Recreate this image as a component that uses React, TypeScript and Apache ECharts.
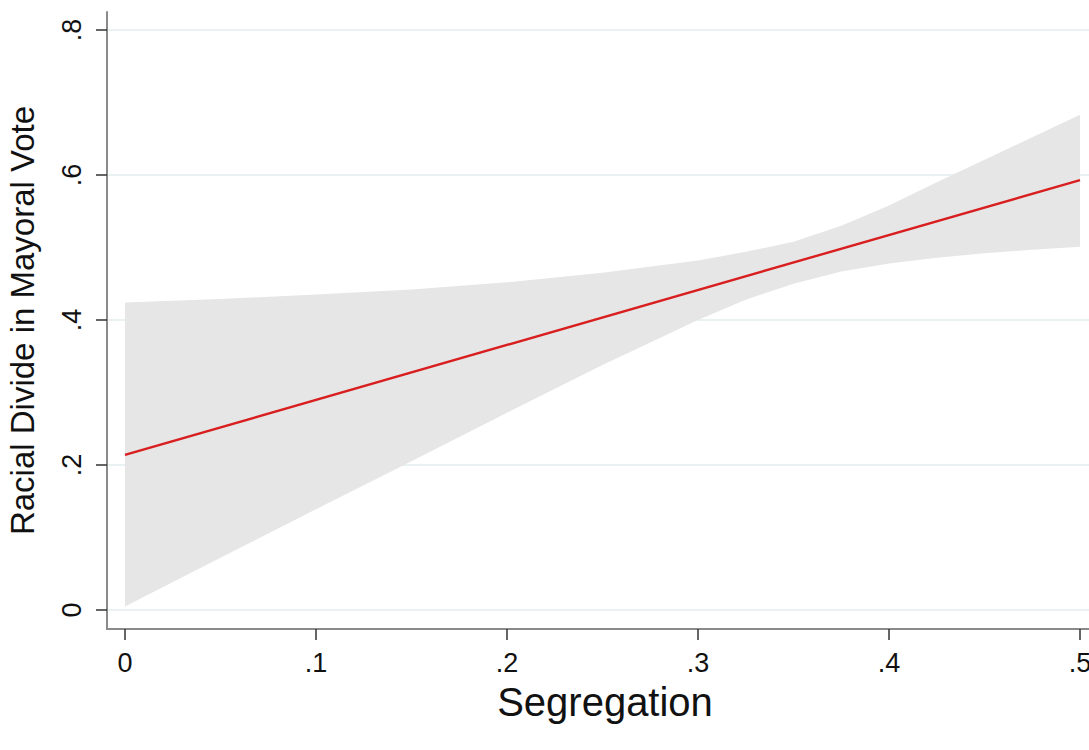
import React, { useEffect, useRef } from "react";
import * as echarts from "echarts";

// Segregation values at which the fitted line and its confidence band were read
const xValues = [0, 0.05, 0.1, 0.15, 0.2, 0.25, 0.3, 0.325, 0.35, 0.375, 0.4, 0.425, 0.45, 0.475, 0.5];
// Upper and lower bound of the confidence band
const upperCI = [0.424, 0.429, 0.435, 0.442, 0.452, 0.465, 0.482, 0.494, 0.508, 0.53, 0.558, 0.59, 0.621, 0.652, 0.683];
const lowerCI = [0.005, 0.072, 0.139, 0.205, 0.272, 0.338, 0.4, 0.428, 0.45, 0.467, 0.478, 0.486, 0.492, 0.497, 0.501];
// Fitted line end points
const fitX = [0, 0.5];
const fitY = [0.214, 0.593];
// Tick values
const xTicks = [0, 0.1, 0.2, 0.3, 0.4, 0.5];
const yTicks = [0, 0.2, 0.4, 0.6, 0.8];

const fmt = (v: number) => {
  if (Math.abs(v) < 1e-9) return "0";
  return String(Math.round(v * 10) / 10).replace(/^0/, "");
};

const FONT = "'Liberation Sans', Arial, Helvetica, sans-serif";

export default function App() {
  const ref = useRef<HTMLDivElement>(null);
  useEffect(() => {
    if (!ref.current) return;
    const chart = echarts.init(ref.current, undefined, { renderer: "svg" });
    const fitData = fitX.map((x, i) => [x, fitY[i]]);
    const bandData = xValues.map((x, i) => [x, lowerCI[i], upperCI[i]]);
    chart.setOption({
      animation: false,
      backgroundColor: "#ffffff",
      textStyle: { fontFamily: FONT },
      grid: {
        left: 107,
        top: 12,
        right: 0,
        bottom: 121,
        containLabel: false,
        outerBoundsMode: "none",
      },
      xAxis: {
        type: "value",
        min: -0.0094,
        max: 0.5047,
        name: "Segregation",
        nameLocation: "middle",
        nameGap: 53,
        nameTextStyle: { fontSize: 40, color: "#111", fontFamily: FONT, padding: [0, 0, 0, 14] },
        axisLine: { show: true, onZero: false, lineStyle: { color: "#8a8a8a", width: 2 } },
        axisTick: {
          show: true,
          customValues: xTicks,
          length: 11,
          lineStyle: { color: "#333", width: 1.5 },
        },
        axisLabel: {
          show: true,
          customValues: xTicks,
          formatter: (v: number) => fmt(v),
          fontSize: 27,
          color: "#111",
          margin: 20,
          fontFamily: FONT,
        },
        splitLine: { show: false },
      },
      yAxis: {
        type: "value",
        min: -0.0262,
        max: 0.8248,
        name: "Racial Divide in Mayoral Vote",
        nameLocation: "middle",
        nameGap: 68,
        nameTextStyle: { fontSize: 33, color: "#111", fontFamily: FONT },
        axisLine: { show: true, onZero: false, lineStyle: { color: "#8a8a8a", width: 2 } },
        axisTick: {
          show: true,
          customValues: yTicks,
          length: 11,
          lineStyle: { color: "#333", width: 1.5 },
        },
        axisLabel: {
          show: true,
          customValues: yTicks,
          formatter: (v: number) => fmt(v),
          rotate: 90,
          fontSize: 27,
          color: "#111",
          margin: 22,
          fontFamily: FONT,
        },
        splitLine: { show: true, lineStyle: { color: "#e9f1f3", width: 2 } },
      },
      series: [
        {
          type: "custom",
          name: "95% CI",
          data: bandData,
          encode: { x: 0, y: [1, 2] },
          silent: true,
          z: 2,
          renderItem: (params: any, api: any) => {
            if (params.dataIndex !== 0) return null;
            const up = xValues.map((x, i) => api.coord([x, upperCI[i]]));
            const lo = xValues.map((x, i) => api.coord([x, lowerCI[i]])).reverse();
            return {
              type: "polygon",
              shape: { points: up.concat(lo) },
              style: { fill: "#e6e6e6", stroke: "none" },
            };
          },
        },
        {
          type: "line",
          name: "Fitted values",
          data: fitData,
          symbol: "none",
          lineStyle: { color: "#d81e1e", width: 2.4 },
          z: 5,
        },
      ],
    });
    return () => chart.dispose();
  }, []);
  return (
    <div
      ref={ref}
      style={{ position: "absolute", left: 0, top: 0, width: 1089, height: 750 }}
    />
  );
}
